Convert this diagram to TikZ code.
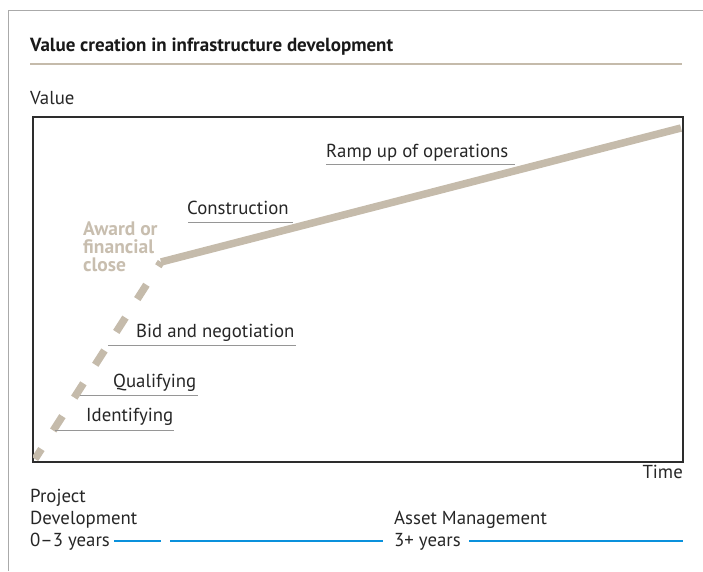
\documentclass[tikz,border=0pt]{standalone}
\usepackage{fontspec}
\setmainfont{PT Sans}
\definecolor{tan}{RGB}{197,187,171}
\definecolor{tantext}{RGB}{200,190,175}
\definecolor{frame}{RGB}{170,170,170}
\definecolor{uline}{RGB}{150,150,150}
\definecolor{axis}{RGB}{45,45,45}
\definecolor{blueline}{RGB}{10,145,220}
\begin{document}
\begin{tikzpicture}[x=1pt,y=-1pt,
  txt/.style={inner sep=0pt,anchor=base west,font=\fontsize{18.8}{22}\selectfont,text=black!85},
  ttl/.style={inner sep=0pt,anchor=base west,font=\fontsize{19}{22}\selectfont\bfseries,text=black!90},
  award/.style={inner sep=0pt,anchor=base west,font=\fontsize{19.5}{22}\selectfont\bfseries,text=tantext},
  ul/.style={draw=uline,line width=1pt},
  blu/.style={draw=blueline,line width=1.3pt},
  valline/.style={draw=tan,line width=7.5pt},
  valdash/.style={draw=tan,line width=7.5pt,dash pattern=on 17pt off 22pt,dash phase=12pt}]
\useasboundingbox (0,0) rectangle (703,571);
% outer frame
\draw[frame,line width=1pt] (8,571) -- (8,10.5) -- (703,10.5);
% title
\node[ttl] (title) at (30,51) {Value creation in infrastructure development};
\coordinate (r1) at (30,64);
\coordinate (r2) at (682,64);
\draw[tan,line width=2pt] (r1) -- (r2);
\node[txt] (value) at (30,104) {Value};
% plot box
\coordinate (b1) at (33,117);
\coordinate (b2) at (683,462);
\draw[axis,line width=1.4pt] (b1) rectangle (b2);
\node[txt,anchor=base east] (time) at (683,478) {Time};
% value line
\coordinate (c0) at (35,459);
\coordinate (cc) at (161,262);
\coordinate (c1) at (681,128);
\begin{scope}
\clip (b1) rectangle (b2);
\draw[valdash] (cc) -- (c0);
\draw[valline,line join=miter] (cc) -- (c1);
\end{scope}
% labels
\node[txt] (ramp) at (326,157) {Ramp up of operations};
\coordinate (u1a) at (326,164.5); \coordinate (u1b) at (515,164.5);
\draw[ul] (u1a) -- (u1b);
\node[txt] (constr) at (187,214) {Construction};
\coordinate (u2a) at (188,222.5); \coordinate (u2b) at (293,222.5);
\draw[ul] (u2a) -- (u2b);
\node[award] (aw1) at (83,235) {Award or};
\node[award] (aw2) at (83,253) {financial};
\node[award] (aw3) at (83,271) {close};
\node[txt] (bid) at (136,337) {Bid and negotiation};
\coordinate (u3a) at (108,345.5); \coordinate (u3b) at (296,345.5);
\draw[ul] (u3a) -- (u3b);
\node[txt] (qual) at (113,387) {Qualifying};
\coordinate (u4a) at (80,395.5); \coordinate (u4b) at (198,395.5);
\draw[ul] (u4a) -- (u4b);
\node[txt] (ident) at (86,421) {Identifying};
\coordinate (u5a) at (55,430.5); \coordinate (u5b) at (174,430.5);
\draw[ul] (u5a) -- (u5b);
% bottom
\node[txt] (proj) at (30,502) {Project};
\node[txt] (dev) at (30,524) {Development};
\node[txt] (y03) at (30,546) {0--3 years};
\node[txt] (am) at (394,524) {Asset Management};
\node[txt] (y3) at (394,546) {3+ years};
\coordinate (bl1a) at (114,541); \coordinate (bl1b) at (161,541);
\coordinate (bl2a) at (170,541); \coordinate (bl2b) at (383,541);
\coordinate (bl3a) at (469,541); \coordinate (bl3b) at (683,541);
\draw[blu] (bl1a) -- (bl1b);
\draw[blu] (bl2a) -- (bl2b);
\draw[blu] (bl3a) -- (bl3b);
\end{tikzpicture}
\end{document}
